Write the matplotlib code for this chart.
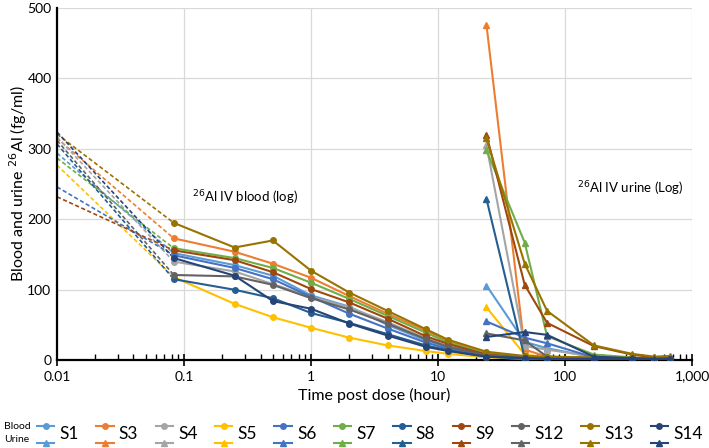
import matplotlib
matplotlib.use("Agg")
import matplotlib.pyplot as plt
from matplotlib.lines import Line2D
from matplotlib.legend_handler import HandlerBase
from matplotlib.ticker import FixedLocator, FuncFormatter, LogLocator, NullFormatter

plt.rcParams['font.family'] = ['Lato', 'DejaVu Sans']

# ---- data ----
subjects = ['S1', 'S3', 'S4', 'S5', 'S6', 'S7', 'S8', 'S9', 'S12', 'S13', 'S14']
colors = ['#5B9BD5', '#ED7D31', '#A5A5A5', '#FFC000', '#4472C4', '#70AD47',
          '#255E91', '#9E480E', '#636363', '#997300', '#264478']

# extrapolated value at t = 0.01 h (dashed)
start_time = 0.01
start_vals = [294, 315, 317, 277, 246, 287, 307, 232, 312, 321, 324]

blood_times = [0.083, 0.25, 0.5, 1, 2, 4, 8, 12, 24, 48, 72, 168, 336, 672]
blood = {
    'S1':  [152, 135, 120, 92, 76, 50, 28, 18, 7, 4, 3, 2, 2, 1],
    'S3':  [173, 154, 137, 117, 91, 66, 42, 27, 10, 5, 4, 3, 2, 2],
    'S4':  [140, 126, 108, 90, 75, 54, 31, 20, 8, 4, 3, 2, 2, 1],
    'S5':  [118, 80, 61, 46, 32, 21, 13, 9, 4, 2, 2, 1, 1, 1],
    'S6':  [149, 131, 115, 90, 66, 45, 25, 16, 6, 3, 3, 2, 2, 1],
    'S7':  [159, 145, 131, 110, 87, 63, 39, 25, 9, 5, 4, 3, 2, 2],
    'S8':  [115, 100, 88, 67, 53, 37, 21, 14, 5, 2, 2, 1, 1, 1],
    'S9':  [156, 142, 125, 101, 82, 59, 34, 23, 8, 4, 3, 3, 2, 2],
    'S12': [121, 119, 107, 88, 72, 52, 30, 19, 7, 4, 3, 2, 2, 1],
    'S13': [195, 160, 170, 127, 96, 70, 44, 29, 12, 6, 5, 4, 3, 2],
    'S14': [145, 120, 84, 73, 52, 35, 19, 13, 5, 3, 2, 2, 1, 1],
}

urine_times = [24, 48, 72, 168, 336, 504, 672]
urine = {
    'S1':  [106, 26, 17, 4, 3, 2, 1],
    'S3':  [476, 15, 5, 3, 2, 1, 1],
    'S4':  [305, 20, 15, 5, 3, 2, 1],
    'S5':  [75, 8, 4, 2, 1, 1, 1],
    'S6':  [55, 32, 24, 4, 2, 2, 1],
    'S7':  [298, 167, 34, 8, 4, 3, 2],
    'S8':  [229, 3, 3, 2, 1, 1, 1],
    'S9':  [320, 107, 53, 20, 8, 4, 3],
    'S12': [38, 28, 5, 3, 2, 1, 1],
    'S13': [315, 137, 70, 21, 9, 5, 6],
    'S14': [33, 40, 36, 5, 3, 2, 2],
}

x_ticks = [0.01, 0.1, 1, 10, 100, 1000]
x_ticklabels = ['0.01', '0.1', '1', '10', '100', '1,000']


class StackHandler(HandlerBase):
    """Legend glyph: blood line (circle) above urine line (triangle)"""
    def create_artists(self, legend, orig_handle, xdescent, ydescent,
                       width, height, fontsize, trans):
        out = []
        x0, x1 = -xdescent, -xdescent + width
        for ln, frac in zip(orig_handle, (0.9, 0.0)):
            y = -ydescent + height * frac
            l = Line2D([x0, x1], [y, y], color=ln.get_color(), lw=ln.get_linewidth())
            m = Line2D([(x0 + x1) / 2], [y], marker=ln.get_marker(), color=ln.get_color(),
                       markersize=ln.get_markersize(), linestyle='none')
            l.set_transform(trans)
            m.set_transform(trans)
            out += [l, m]
        return out


fig = plt.figure(figsize=(7.09, 4.48), dpi=100)
ax = fig.add_axes([0.0804, 0.196, 0.896, 0.786])

handles = []
for s, c, v0 in zip(subjects, colors, start_vals):
    ax.plot([start_time, blood_times[0]], [v0, blood[s][0]], color=c, lw=1.2,
            linestyle=(0, (2.5, 1.5)), zorder=2)
    bl, = ax.plot(blood_times, blood[s], color=c, lw=1.5, marker='o', markersize=4, zorder=3)
    ul, = ax.plot(urine_times, urine[s], color=c, lw=1.5, marker='^', markersize=4.5, zorder=3)
    handles.append((bl, ul))

ax.set_xscale('log')
ax.set_xlim(0.01, 1000)
ax.set_ylim(0, 500)
ax.xaxis.set_major_locator(FixedLocator(x_ticks))
ax.xaxis.set_major_formatter(FuncFormatter(lambda v, p: x_ticklabels[x_ticks.index(v)] if v in x_ticks else ''))
ax.xaxis.set_minor_locator(LogLocator(base=10, subs=range(2, 10)))
ax.xaxis.set_minor_formatter(NullFormatter())
ax.set_yticks(range(0, 501, 100))

ax.grid(True, which='major', color='#D9D9D9', lw=0.9)
ax.set_axisbelow(True)
for side in ('top', 'right'):
    ax.spines[side].set_visible(False)
ax.spines['left'].set_linewidth(1.6)
ax.spines['bottom'].set_linewidth(1.6)
ax.tick_params(axis='y', length=0, labelsize=10, pad=4)
ax.tick_params(axis='x', which='major', direction='inout', length=8, width=1.2, labelsize=10)
ax.tick_params(axis='x', which='minor', direction='in', length=4, width=1.0)

ax.set_xlabel('Time post dose (hour)', fontsize=11.5, labelpad=4)
ax.set_ylabel('Blood and urine $^{26}$Al (fg/ml)', fontsize=11.5, labelpad=-1)

ax.text(0.116, 231, '$^{26}$Al IV blood (log)', fontsize=9.5, va='center', ha='left')
ax.text(124, 243, '$^{26}$Al IV urine (Log)', fontsize=9.5, va='center', ha='left')

fig.legend(handles, subjects, handler_map={tuple: StackHandler()},
           loc='center left', bbox_to_anchor=(0.052, 0.033), ncol=11, frameon=False,
           fontsize=12.5, handlelength=1.0, handleheight=1.3, columnspacing=1.0,
           handletextpad=0.3, borderpad=0, borderaxespad=0)
fig.text(0.006, 0.048, 'Blood', fontsize=7.5, va='center', ha='left')
fig.text(0.006, 0.018, 'Urine', fontsize=7.5, va='center', ha='left')

fig.savefig('out.png', dpi=100)
